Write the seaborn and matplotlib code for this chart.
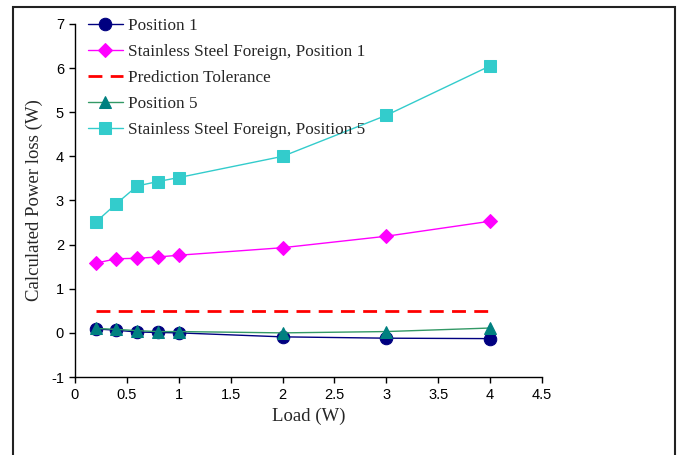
import matplotlib
matplotlib.use("Agg")
import matplotlib.pyplot as plt
import seaborn as sns
import pandas as pd
from matplotlib.patches import Rectangle

load = [0.2, 0.4, 0.6, 0.8, 1.0, 2.0, 3.0, 4.0]
pos1 = [0.09, 0.06, 0.02, 0.01, 0.0, -0.09, -0.12, -0.13]
ss_pos1 = [1.58, 1.68, 1.69, 1.72, 1.76, 1.93, 2.19, 2.53]
tolerance = [0.5] * 8
pos5 = [0.10, 0.08, 0.05, 0.03, 0.03, 0.0, 0.03, 0.11]
ss_pos5 = [2.51, 2.93, 3.33, 3.43, 3.52, 4.0, 4.93, 6.05]

labels = ["Position 1", "Stainless Steel Foreign, Position 1", "Prediction Tolerance",
          "Position 5", "Stainless Steel Foreign, Position 5"]

sns.set_style("ticks")
plt.rcParams["axes.unicode_minus"] = False
fig = plt.figure(figsize=(6.78, 4.55), dpi=100)
ax = fig.add_axes([0.1106, 0.1714, 0.6888, 0.7759])

serif = "Liberation Serif"
sans = "Liberation Sans"

sns.lineplot(x=load, y=pos1, ax=ax, color="#000080", marker="o", markersize=9,
             markeredgecolor="#000080", linewidth=1, label=labels[0])
sns.lineplot(x=load, y=ss_pos1, ax=ax, color="#FF00FF", marker="D", markersize=7,
             markeredgecolor="#FF00FF", linewidth=1, label=labels[1])
sns.lineplot(x=load, y=tolerance, ax=ax, color="#FF0000", linewidth=2,
             linestyle=(0, (5, 3)), label=labels[2])
sns.lineplot(x=load, y=pos5, ax=ax, color="#339966", marker="^", markersize=9,
             markerfacecolor="#008080", markeredgecolor="#008080", linewidth=1, label=labels[3])
sns.lineplot(x=load, y=ss_pos5, ax=ax, color="#33CCCC", marker="s", markersize=9,
             markeredgecolor="#33CCCC", linewidth=1, label=labels[4])

ax.set_xlim(0, 4.5)
ax.set_ylim(-1, 7)
ax.set_xticks([0, 0.5, 1, 1.5, 2, 2.5, 3, 3.5, 4, 4.5])
ax.set_xticklabels(["0", "0.5", "1", "1.5", "2", "2.5", "3", "3.5", "4", "4.5"])
ax.set_yticks(range(-1, 8))
ax.set_yticklabels([str(v) for v in range(-1, 8)])
for t in ax.get_xticklabels() + ax.get_yticklabels():
    t.set_fontfamily(sans)
    t.set_fontsize(10.5)
ax.tick_params(axis="both", direction="out", length=4, width=1, colors="black", pad=4)
ax.set_xlabel("Load (W)", fontfamily=serif, fontsize=13.5)
ax.set_ylabel("Calculated Power loss (W)", fontfamily=serif, fontsize=13.5, labelpad=6)
sns.despine(ax=ax)
for s in ("left", "bottom"):
    ax.spines[s].set_color("black")
    ax.spines[s].set_linewidth(1)

leg = ax.legend(loc="upper left", bbox_to_anchor=(-0.005, 1.062), frameon=False,
                prop={"family": serif, "size": 12.4}, handlelength=2.0,
                labelspacing=0.58, handletextpad=0.3)

fig.patches.append(Rectangle((13 / 678, -0.01), (675 - 13) / 678, (455 - 7) / 455 + 0.01,
                             transform=fig.transFigure, fill=False,
                             edgecolor="#222222", linewidth=1.5))

fig.savefig("out.png", dpi=100)
